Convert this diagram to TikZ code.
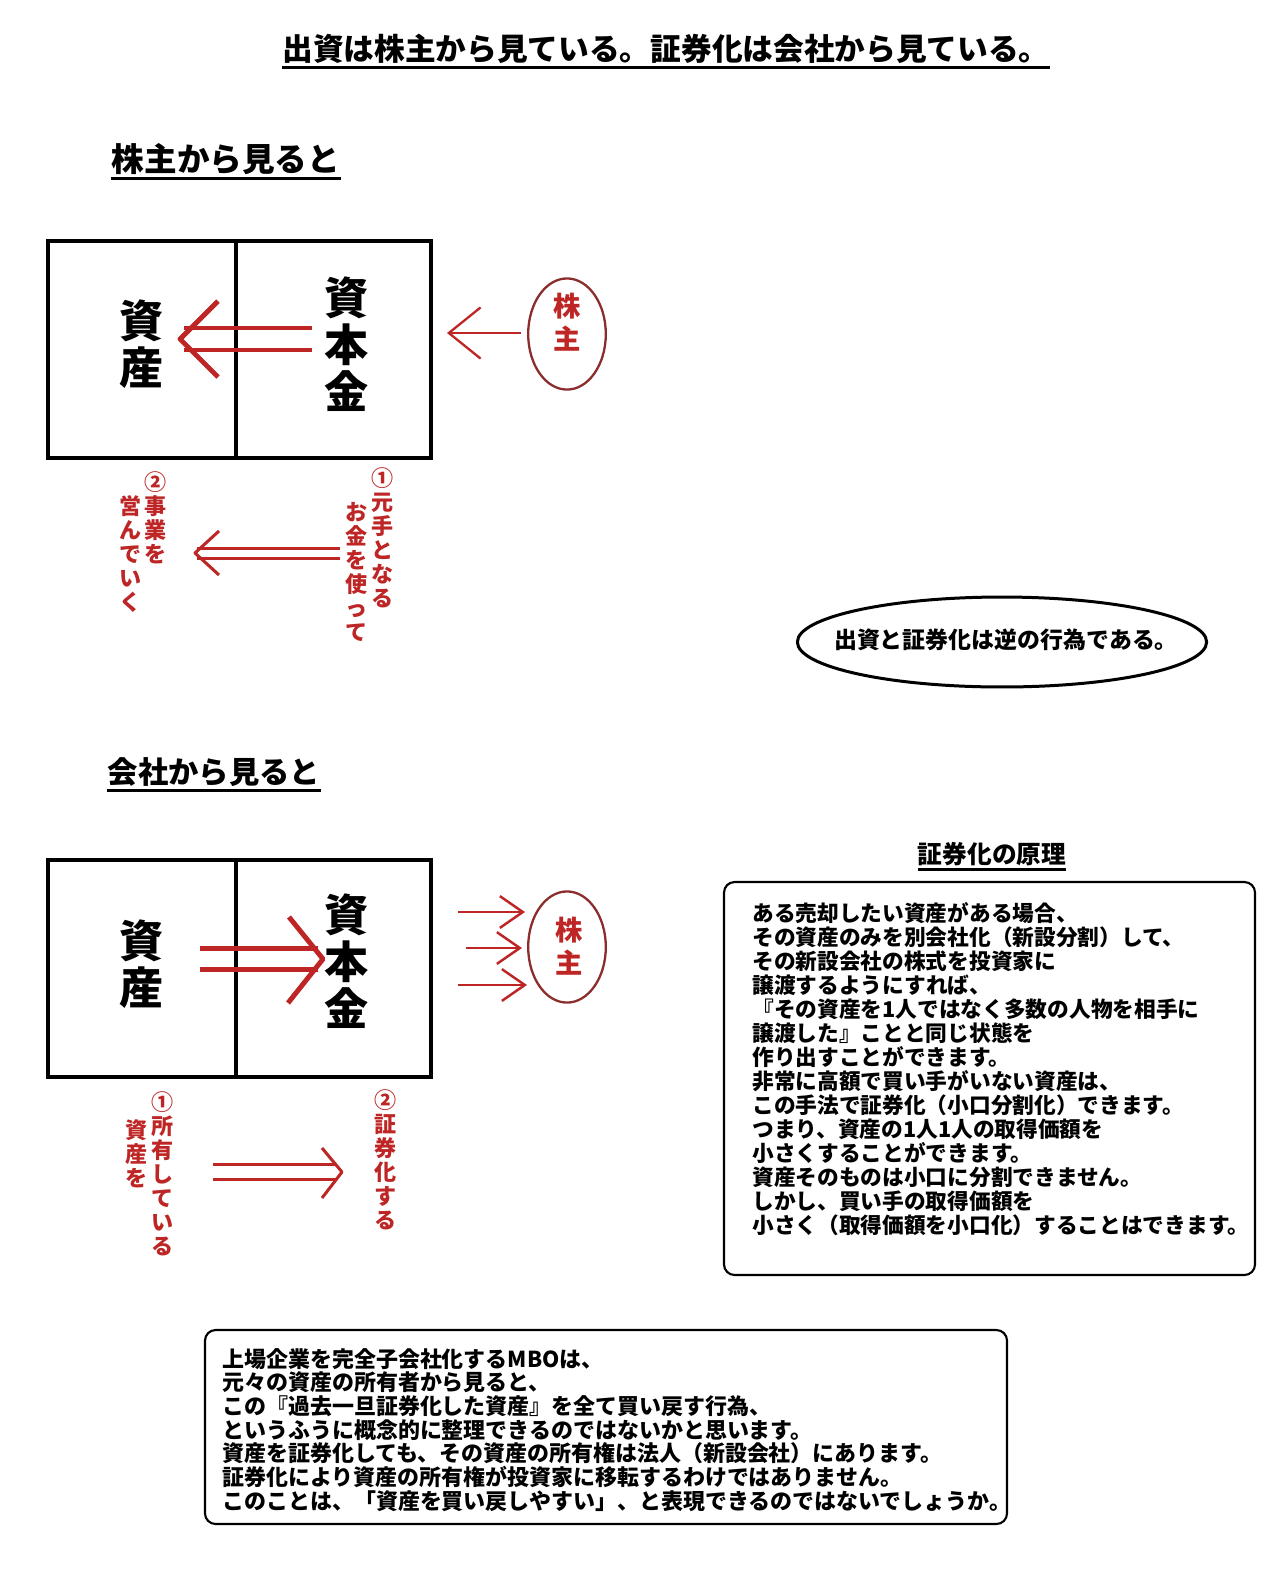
\documentclass[tikz,border=0pt]{standalone}
\usepackage{fontspec}
\setmainfont{Noto Sans CJK JP}
\usetikzlibrary{shapes.geometric, arrows.meta, positioning}
\definecolor{kred}{RGB}{190,38,38}
\definecolor{kbrown}{RGB}{140,45,45}
\tikzstyle{frame} = [draw=black, line width=2.3pt]
\tikzstyle{uline} = [draw=black, line width=1.6pt]
\tikzstyle{heading} = [inner sep=0pt, font=\bfseries\fontsize{18.5}{20}\selectfont]
\tikzstyle{big} = [inner sep=0pt, align=center, font=\bfseries\fontsize{25}{26.6}\selectfont]
\tikzstyle{vlabel} = [inner sep=0pt, anchor=north, align=center, text=kred, font=\bfseries\fontsize{12.5}{13.6}\selectfont]
\tikzstyle{holder} = [ellipse, draw=kbrown, line width=1.3pt, minimum width=44pt, minimum height=63pt]
\tikzstyle{holdertext} = [inner sep=0pt, align=center, text=kred, font=\bfseries\fontsize{15.5}{18.5}\selectfont]
\tikzstyle{dblline} = [draw=kred, line width=2.8pt, line join=round]
\tikzstyle{thinline} = [draw=kred, line width=1.7pt, line join=round]
\tikzstyle{sharrow} = [draw=kred, line width=1.4pt, -{Straight Barb[length=13pt, width=18pt]}]
\tikzstyle{note} = [draw=black, line width=1.2pt, rounded corners=6pt]
\tikzstyle{bodytext} = [inner sep=0pt, anchor=north west, align=left, font=\bfseries\fontsize{12.3}{13.6}\selectfont]

\begin{document}
\begin{tikzpicture}[x=0.5669pt, y=-0.5669pt]
    \fill[white] (0,0) rectangle (1280,1574);
    \useasboundingbox (0,0) rectangle (1280,1574);

    % title
    \node (title) [heading, font=\bfseries\fontsize{17.4}{20}\selectfont] at (666,49) {出資は株主から見ている。証券化は会社から見ている。};
    \draw [uline] ([yshift=-2pt]title.south west) -- ([yshift=-2pt]title.south east);

    % seen from the shareholder
    \node (view1) [heading] at (226,159) {株主から見ると};
    \draw [uline] ([yshift=-2pt]view1.south west) -- ([yshift=-2pt]view1.south east);

    \draw [frame] (48,241) rectangle (431,458);
    \draw [frame] (236,241) -- (236,458);
    \node (asset1) [big] at (142,344) {資\\産};
    \node (capital1) [big] at (347,344) {資\\本\\金};

    \node (holder1) [holder] at (567,334) {};
    \node (holder1t) [holdertext] at (567,322) {株\\主};
    \coordinate (h1tail) at (521,333);
    \coordinate (h1tip) at (447,333);
    \draw [draw=kred, line width=1.3pt, -{Straight Barb[length=18pt, width=29pt]}] (h1tail) -- (h1tip);

    \coordinate (in1tail) at (312,339);
    \coordinate (in1tip) at (180,339);
    \draw [dblline] (in1tail) ++(0,-11) -- ++(-128,0);
    \draw [dblline] (in1tail) ++(0,11) -- ++(-128,0);
    \draw [dblline] (in1tip) ++(38,-38) -- (in1tip) -- ++(38,38);

    \node (step2a) [vlabel] at (156,471) {②\\事\\業\\を};
    \node (step2b) [vlabel] at (131,495) {営\\ん\\で\\い\\く};
    \node (step1a) [vlabel] at (383,467) {①\\元\\手\\と\\な\\る};
    \node (step1b) [vlabel] at (357,502) {お\\金\\を\\使\\っ\\て};

    \coordinate (mid1tail) at (340,553);
    \coordinate (mid1tip) at (195,553);
    \draw [thinline] (mid1tail) ++(0,-5) -- ++(-143,0);
    \draw [thinline] (mid1tail) ++(0,5) -- ++(-143,0);
    \draw [thinline] (mid1tip) ++(24,-22) -- (mid1tip) -- ++(24,22);

    \node (inverse) [ellipse, draw, line width=1.7pt, minimum width=232pt, minimum height=51pt] at (1002,642) {};
    \node (inversetext) [inner sep=0pt, font=\bfseries\fontsize{13}{15}\selectfont] at (1006,640) {出資と証券化は逆の行為である。};

    % seen from the company
    \node (view2) [heading, font=\bfseries\fontsize{17.2}{19}\selectfont] at (214,772) {会社から見ると};
    \draw [uline] ([yshift=-2pt]view2.south west) -- ([yshift=-2pt]view2.south east);

    \draw [frame] (48,860) rectangle (431,1077);
    \draw [frame] (236,860) -- (236,1077);
    \node (asset2) [big] at (142,964) {資\\産};
    \node (capital2) [big] at (347,961) {資\\本\\金};

    \coordinate (in2tail) at (200,959);
    \coordinate (in2tip) at (323,959);
    \draw [dblline] (in2tail) ++(0,-10.5) -- ++(118,0);
    \draw [dblline] (in2tail) ++(0,10.5) -- ++(118,0);
    \draw [dblline] (in2tip) ++(-34,-42) -- (in2tip) -- ++(-35,44);

    \node (holder2) [holder] at (567,947) {};
    \node (holder2t) [holdertext] at (569,946) {株\\主};
    \coordinate (s1) at (458,912);
    \coordinate (e1) at (525,912);
    \coordinate (s2) at (466,948);
    \coordinate (e2) at (522,948);
    \coordinate (s3) at (458,985);
    \coordinate (e3) at (527,985);
    \draw [sharrow] (s1) -- (e1);
    \draw [sharrow] (s2) -- (e2);
    \draw [sharrow] (s3) -- (e3);

    \node (own1) [vlabel] at (163,1091) {①\\所\\有\\し\\て\\い\\る};
    \node (own2) [vlabel] at (137,1119) {資\\産\\を};
    \node (sec) [vlabel] at (386,1089) {②\\証\\券\\化\\す\\る};

    \coordinate (mid2tail) at (213,1172);
    \coordinate (mid2tip) at (342,1172);
    \draw [thinline] (mid2tail) ++(0,-7.5) -- ++(124,0);
    \draw [thinline] (mid2tail) ++(0,7.5) -- ++(124,0);
    \draw [thinline] (mid2tip) ++(-20,-24) -- (mid2tip) -- ++(-20,26);

    % principle of securitisation
    \node (principle) [heading, font=\bfseries\fontsize{14}{16}\selectfont] at (992,854) {証券化の原理};
    \draw [uline] ([yshift=-2pt]principle.south west) -- ([yshift=-2pt]principle.south east);
    \draw [note] (724,882) rectangle (1255,1275);
    \node (principletext) [bodytext] at (752,902) {ある売却したい資産がある場合、\\その資産のみを別会社化（新設分割）して、\\その新設会社の株式を投資家に\\譲渡するようにすれば、\\『その資産を1人ではなく多数の人物を相手に\\譲渡した』ことと同じ状態を\\作り出すことができます。\\非常に高額で買い手がいない資産は、\\この手法で証券化（小口分割化）できます。\\つまり、資産の1人1人の取得価額を\\小さくすることができます。\\資産そのものは小口に分割できません。\\しかし、買い手の取得価額を\\小さく（取得価額を小口化）することはできます。};

    % MBO note
    \draw [note] (205,1330) rectangle (1007,1524);
    \node (mbotext) [bodytext, font=\bfseries\fontsize{12.45}{13.4}\selectfont] at (222,1348) {上場企業を完全子会社化するMBOは、\\元々の資産の所有者から見ると、\\この『過去一旦証券化した資産』を全て買い戻す行為、\\というふうに概念的に整理できるのではないかと思います。\\資産を証券化しても、その資産の所有権は法人（新設会社）にあります。\\証券化により資産の所有権が投資家に移転するわけではありません。\\このことは、「資産を買い戻しやすい」、と表現できるのではないでしょうか。};
\end{tikzpicture}
\end{document}
